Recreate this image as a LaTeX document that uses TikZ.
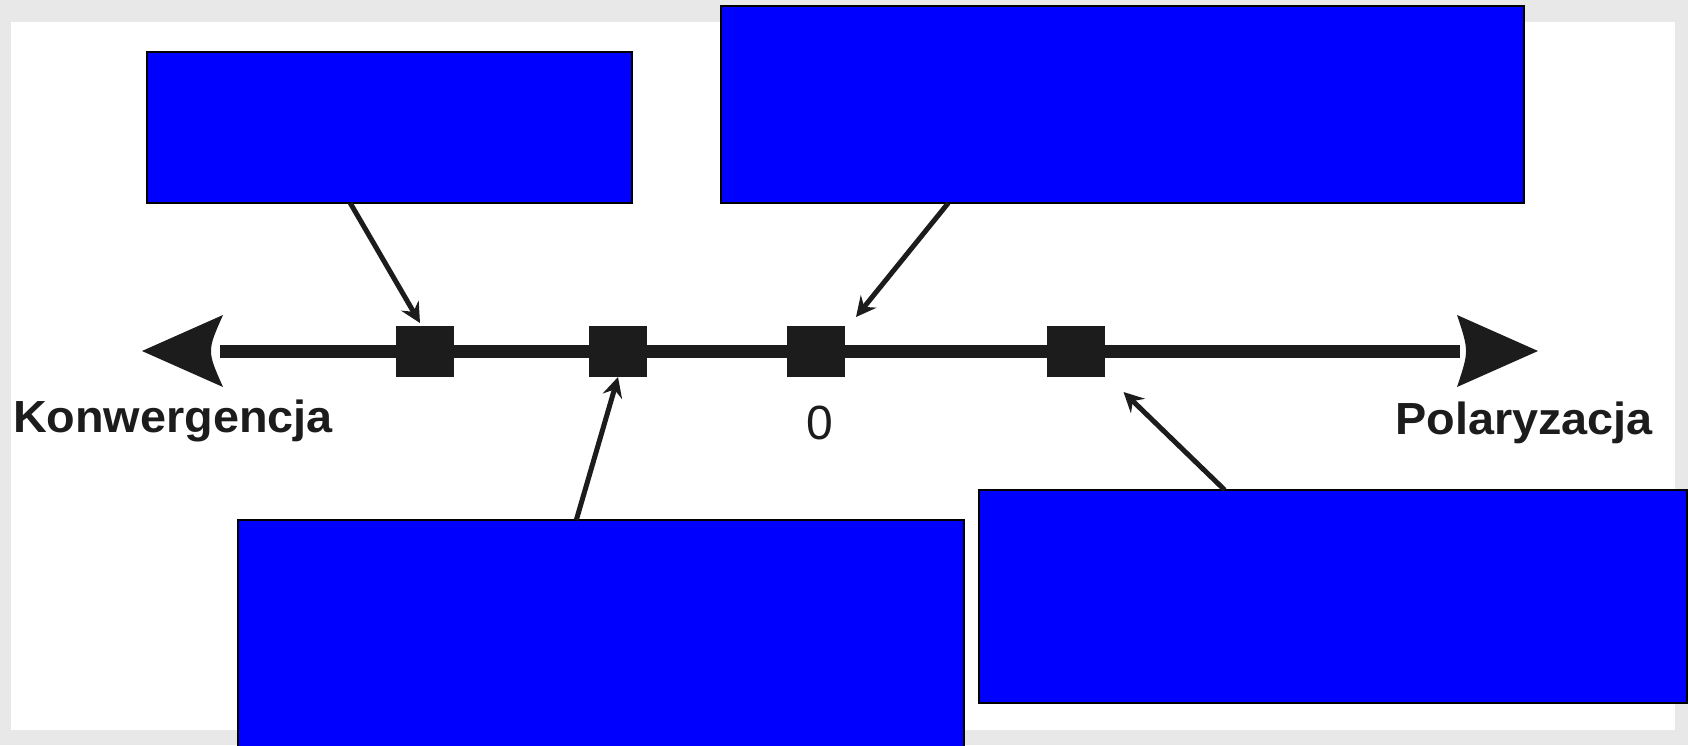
\documentclass[tikz,border=0pt]{standalone}
\usepackage{fontspec}
\setmainfont{Liberation Sans}
\usepackage{graphicx}
\usetikzlibrary{arrows.meta,calc}
\definecolor{ink}{HTML}{1C1C1C}
\definecolor{boxblue}{HTML}{0000FF}
\definecolor{bggray}{HTML}{E8E8E8}
\begin{document}
\begin{tikzpicture}[x=1pt,y=-1pt,
  box/.style={draw=black,line width=2pt,fill=boxblue,inner sep=0pt,outer sep=0pt},
  marker/.style={fill=ink,inner sep=0pt,outer sep=0pt,minimum width=58pt,minimum height=51pt},
  pointer/.style={draw=ink,line width=5pt,-{Stealth[length=20pt,width=20pt,inset=7pt]}},
  axislabel/.style={inner sep=0pt,outer sep=0pt,text=ink,font=\fontsize{45}{50}\selectfont\bfseries},
  axisline/.style={draw=ink,line width=13pt},
  axishead/.style={fill=ink}
]
\useasboundingbox (0,0) rectangle (1688,745);
\clip (0,0) rectangle (1688,745);
\fill[bggray] (0,0) rectangle (1688,745);
\fill[white] (11,22) rectangle (1675,730);

% boxes
\node[box,minimum width=485pt,minimum height=151pt] (b1) at (389.5,127.5) {};
\node[box,minimum width=803pt,minimum height=197pt] (b2) at (1122.5,104.5) {};
\node[box,minimum width=726pt,minimum height=240pt] (b3) at (601,640) {};
\node[box,minimum width=708pt,minimum height=213pt] (b4) at (1333,596.5) {};

% axis
\coordinate (tipL) at (142,351);
\coordinate (tipR) at (1538,351);
\coordinate (baseL) at (220,351);
\coordinate (baseR) at (1460,351);
\draw[axisline] (baseL) -- (baseR);
\fill[axishead] (tipL) -- (223,315) .. controls (207,351) .. (223,387) -- cycle;
\fill[axishead] (tipR) -- (1457,315) .. controls (1469,351) .. (1457,387) -- cycle;

% markers
\node[marker] (s1) at (425,351.5) {};
\node[marker] (s2) at (618,351.5) {};
\node[marker] (s3) at (816,351.5) {};
\node[marker] (s4) at (1075.5,351.5) {};

% pointers
\draw[pointer] ($(b1.south west)!0.419!(b1.south east)$) -- ($(s1.north)+(-5,-3)$);
\draw[pointer] ($(b2.south west)!0.283!(b2.south east)$) -- ($(s3.north east)+(11,-9)$);
\draw[pointer] ($(b3.north west)!0.466!(b3.north east)$) -- (s2.south);
\draw[pointer] ($(b4.north west)!0.347!(b4.north east)$) -- ($(s4.south east)+(19,15)$);

% labels
\node[axislabel,anchor=base west] (kon) at (13,432) {\scalebox{1.04}[1]{Konwergencja}};
\node[axislabel,anchor=base east] (pol) at (1653,434) {\scalebox{1.04}[1]{Polaryzacja}};
\node[inner sep=0pt,outer sep=0pt,text=ink,font=\fontsize{48}{50}\selectfont,anchor=base] (zero) at (820,439) {0};
\end{tikzpicture}
\end{document}
